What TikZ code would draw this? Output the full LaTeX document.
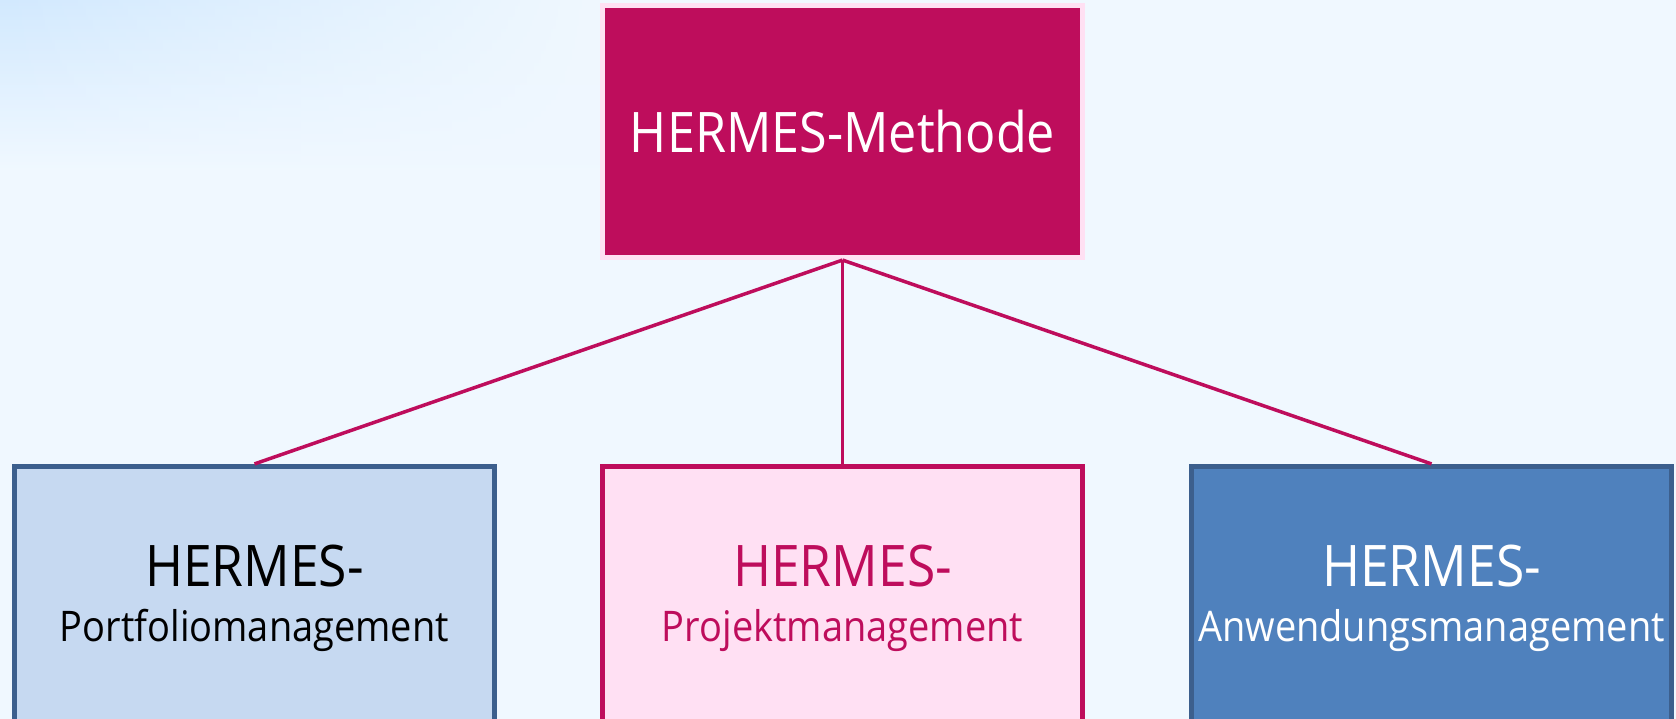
\documentclass[tikz,border=0pt]{standalone}
\usepackage{fontspec}
\setmainfont[FakeStretch=0.9]{Open Sans}
\usetikzlibrary{fadings}
\definecolor{hmagenta}{HTML}{BE0D5C}
\definecolor{hpink}{HTML}{FFE0F3}
\definecolor{hlightblue}{HTML}{C6D9F1}
\definecolor{hblue}{HTML}{4F81BD}
\definecolor{hdarkblue}{HTML}{3C5F8D}
\definecolor{hbg}{HTML}{F0F8FF}
\definecolor{hbgtop}{HTML}{D2E9FE}
\newcommand{\hkopf}[1]{{\fontsize{16.3}{15.6}\selectfont #1}}

\begin{document}
\begin{tikzpicture}[x=0.01cm,y=-0.01cm,
		methodbox/.style={draw=hpink, fill=hmagenta, text=white, line width=0.05cm,
			minimum width=4.79cm, minimum height=2.52cm, inner sep=0pt,
			font=\fontsize{15.9}{19}\selectfont},
		subbox/.style={line width=0.05cm, minimum width=4.80cm, minimum height=2.63cm,
			inner sep=0pt, align=center, font=\fontsize{12.0}{15.6}\selectfont},
		verbindung/.style={hmagenta, line width=0.035cm}]
		
		% Hintergrund
		\clip (0,0) rectangle (1676,719);
		\fill[hbg] (0,0) rectangle (1676,719);
		\shade[top color=hbgtop, bottom color=hbg, path fading=east] (0,0) rectangle (600,170);
		
		% Oberer Kasten
		\node[methodbox] (methode) at (842.5,131.5) {HERMES-Methode};
		
		% Untere Kästen
		\node[subbox, draw=hdarkblue, fill=hlightblue, text=black] (portfolio) at (254.5,598)
			{\hkopf{HERMES-}\\Portfoliomanagement};
		\node[subbox, draw=hmagenta, fill=hpink, text=hmagenta] (projekt) at (842.5,598)
			{\hkopf{HERMES-}\\Projektmanagement};
		\node[subbox, draw=hdarkblue, fill=hblue, text=white] (anwendung) at (1431.5,598)
			{\hkopf{HERMES-}\\Anwendungsmanagement};
		
		% Verbindungen
		\draw[verbindung] (methode.south) -- (portfolio.north);
		\draw[verbindung] (methode.south) -- (projekt.north);
		\draw[verbindung] (methode.south) -- (anwendung.north);
		
	\end{tikzpicture}
\end{document}
